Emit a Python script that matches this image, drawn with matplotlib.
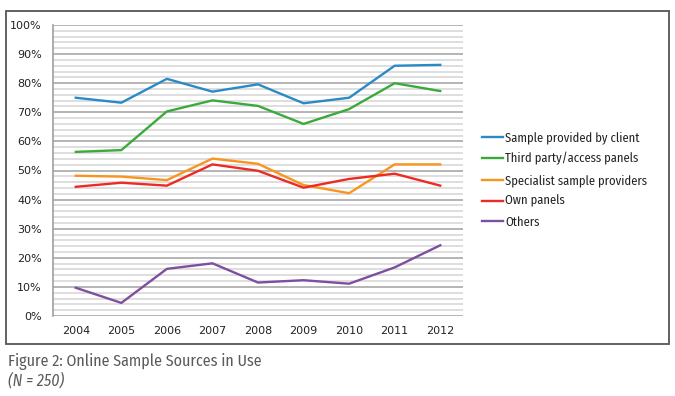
import matplotlib
matplotlib.use("Agg")
import matplotlib.pyplot as plt
from matplotlib.patches import Rectangle
from matplotlib.ticker import MultipleLocator, PercentFormatter

# Data (percent)
years = ["2004", "2005", "2006", "2007", "2008", "2009", "2010", "2011", "2012"]
client = [75.0, 73.3, 81.5, 77.1, 79.6, 73.1, 75.0, 86.0, 86.3]
third_party = [56.4, 57.0, 70.3, 74.1, 72.2, 66.0, 71.1, 80.0, 77.3]
specialist = [48.2, 47.9, 46.7, 54.1, 52.3, 45.0, 42.2, 52.1, 52.1]
own_panels = [44.4, 45.8, 44.8, 52.1, 49.9, 44.1, 47.1, 48.9, 44.8]
others = [9.7, 4.5, 16.2, 18.1, 11.5, 12.3, 11.1, 16.7, 24.3]

series_names = ["Sample provided by client", "Third party/access panels",
                "Specialist sample providers", "Own panels", "Others"]
colors = ["#2A8AC6", "#3BAA3C", "#F8951D", "#EE2A24", "#7E4E9F"]

narrow = ["Fira Sans Condensed", "DejaVu Sans"]

fig = plt.figure(figsize=(6.75, 3.96), dpi=100)
ax = fig.add_axes([53 / 675, 1 - 316 / 396, 410 / 675, 291 / 396])

x = range(len(years))
for vals, name, c in zip([client, third_party, specialist, own_panels, others],
                         series_names, colors):
    ax.plot(x, vals, color=c, lw=1.7, label=name, solid_joinstyle="round", zorder=3)

ax.set_xlim(-0.5, len(years) - 0.5)
ax.set_ylim(0, 100)
ax.set_xticks(list(x))
ax.set_xticklabels(years)
ax.yaxis.set_major_locator(MultipleLocator(10))
ax.yaxis.set_minor_locator(MultipleLocator(2))
ax.yaxis.set_major_formatter(PercentFormatter(decimals=0))

# grid
ax.grid(which="minor", axis="y", color="#D8D8D8", lw=1.2, zorder=1)
ax.grid(which="major", axis="y", color="#A8A8A8", lw=1.2, zorder=2)
ax.set_axisbelow(True)
for s in ["top", "right", "bottom"]:
    ax.spines[s].set_visible(False)
ax.spines["left"].set_color("#A0A0A0")
ax.spines["left"].set_linewidth(1.2)
ax.tick_params(axis="both", which="both", length=0, colors="#222222")
ax.tick_params(axis="y", pad=8, labelsize=8)
ax.tick_params(axis="x", pad=7, labelsize=8)

leg = ax.legend(loc="upper left", bbox_to_anchor=(482 / 675, 1 - 131 / 396),
                bbox_transform=fig.transFigure, frameon=False, borderpad=0,
                borderaxespad=0, handlelength=1.7, handletextpad=0.15,
                labelspacing=0.68, prop={"family": narrow, "size": 9})
for t in leg.get_texts():
    t.set_color("#222222")

# outer frame
fig.patches.append(Rectangle((6 / 675, 1 - 344 / 396), 663 / 675, 333 / 396,
                             transform=fig.transFigure, fill=False,
                             edgecolor="#555555", lw=1.3))

fig.text(8 / 675, 1 - 362 / 396, "Figure 2: Online Sample Sources in Use",
         family=narrow, fontsize=11.5, color="#5A5A5A", va="center")
fig.text(8 / 675, 1 - 381 / 396, "(N = 250)", family=narrow, style="italic",
         fontsize=11.5, color="#5A5A5A", va="center")

fig.savefig("out.png", dpi=100)
